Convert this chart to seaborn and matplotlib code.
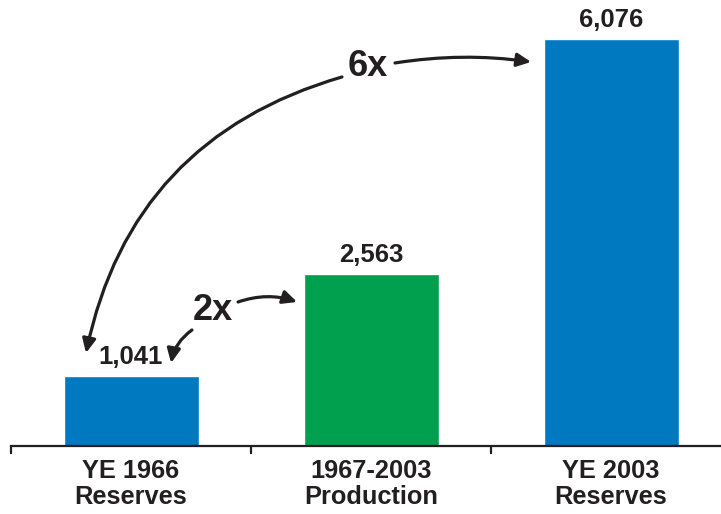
import matplotlib
matplotlib.use("Agg")
import matplotlib.pyplot as plt
import seaborn as sns
import pandas as pd

# Reserves vs. cumulative production (million barrels)
categories = ["YE 1966\nReserves", "1967-2003\nProduction", "YE 2003\nReserves"]
values = [1041, 2563, 6076]
bar_colors = ["#0079C1", "#00A04F", "#0079C1"]

INK = "#231F20"

sns.set_theme(style="white")
plt.rcParams["font.family"] = ["Liberation Sans", "DejaVu Sans"]

df = pd.DataFrame({"category": categories, "value": values})

fig = plt.figure(figsize=(7.21, 5.14), dpi=100)
# the axes runs past the right edge so the last category cell is cut off
ax = fig.add_axes([11 / 721, 68 / 514, 720 / 721, 446 / 514])

sns.barplot(data=df, x="category", y="value", hue="category",
            palette=bar_colors, width=0.5625, legend=False, ax=ax,
            saturation=1)

ax.set_xlim(-0.5, 2.5)
ax.set_ylim(0, 6658)
ax.set_xlabel("")
ax.set_ylabel("")
ax.set_yticks([])

for side in ["top", "left", "right"]:
    ax.spines[side].set_visible(False)
ax.spines["bottom"].set_color(INK)
ax.spines["bottom"].set_linewidth(1.6)

# category separators as minor ticks, labels centred on bars
ax.set_xticks([-0.5, 0.5, 1.5, 2.5], minor=True)
ax.tick_params(axis="x", which="minor", bottom=True, direction="out",
               length=5.5, width=1.6, color=INK)
ax.tick_params(axis="x", which="major", bottom=False, length=0, pad=9)
for lbl in ax.get_xticklabels():
    lbl.set_fontsize(18.3)
    lbl.set_fontweight("bold")
    lbl.set_color(INK)
    lbl.set_linespacing(1.15)

# value labels on top of each bar
for cont in ax.containers:
    ax.bar_label(cont, labels=[f"{v:,.0f}" for v in cont.datavalues],
                 padding=5, fontsize=18.5, fontweight="bold", color=INK)

# growth multiples with curved arrows
ax.text(0.988, 5672, "6x", ha="center", va="center", fontsize=26,
        fontweight="bold", color=INK)
ax.text(0.341, 2023, "2x", ha="center", va="center", fontsize=26,
        fontweight="bold", color=INK)

arrow_style = "-|>,head_length=0.42,head_width=0.2"


def curved_arrow(start, end, rad):
    ax.annotate("", xy=end, xytext=start, xycoords="data",
                arrowprops=dict(arrowstyle=arrow_style, color=INK, lw=2.3,
                                mutation_scale=20, shrinkA=0, shrinkB=0,
                                connectionstyle=f"arc3,rad={rad}"))


curved_arrow((0.879, 5509), (-0.1875, 1388), 0.30)
curved_arrow((1.10, 5718), (1.667, 5733), -0.075)
curved_arrow((0.446, 2150), (0.692, 2150), -0.17)
curved_arrow((0.254, 1732), (0.167, 1239), 0.2)

fig.savefig("out.png", dpi=100)
